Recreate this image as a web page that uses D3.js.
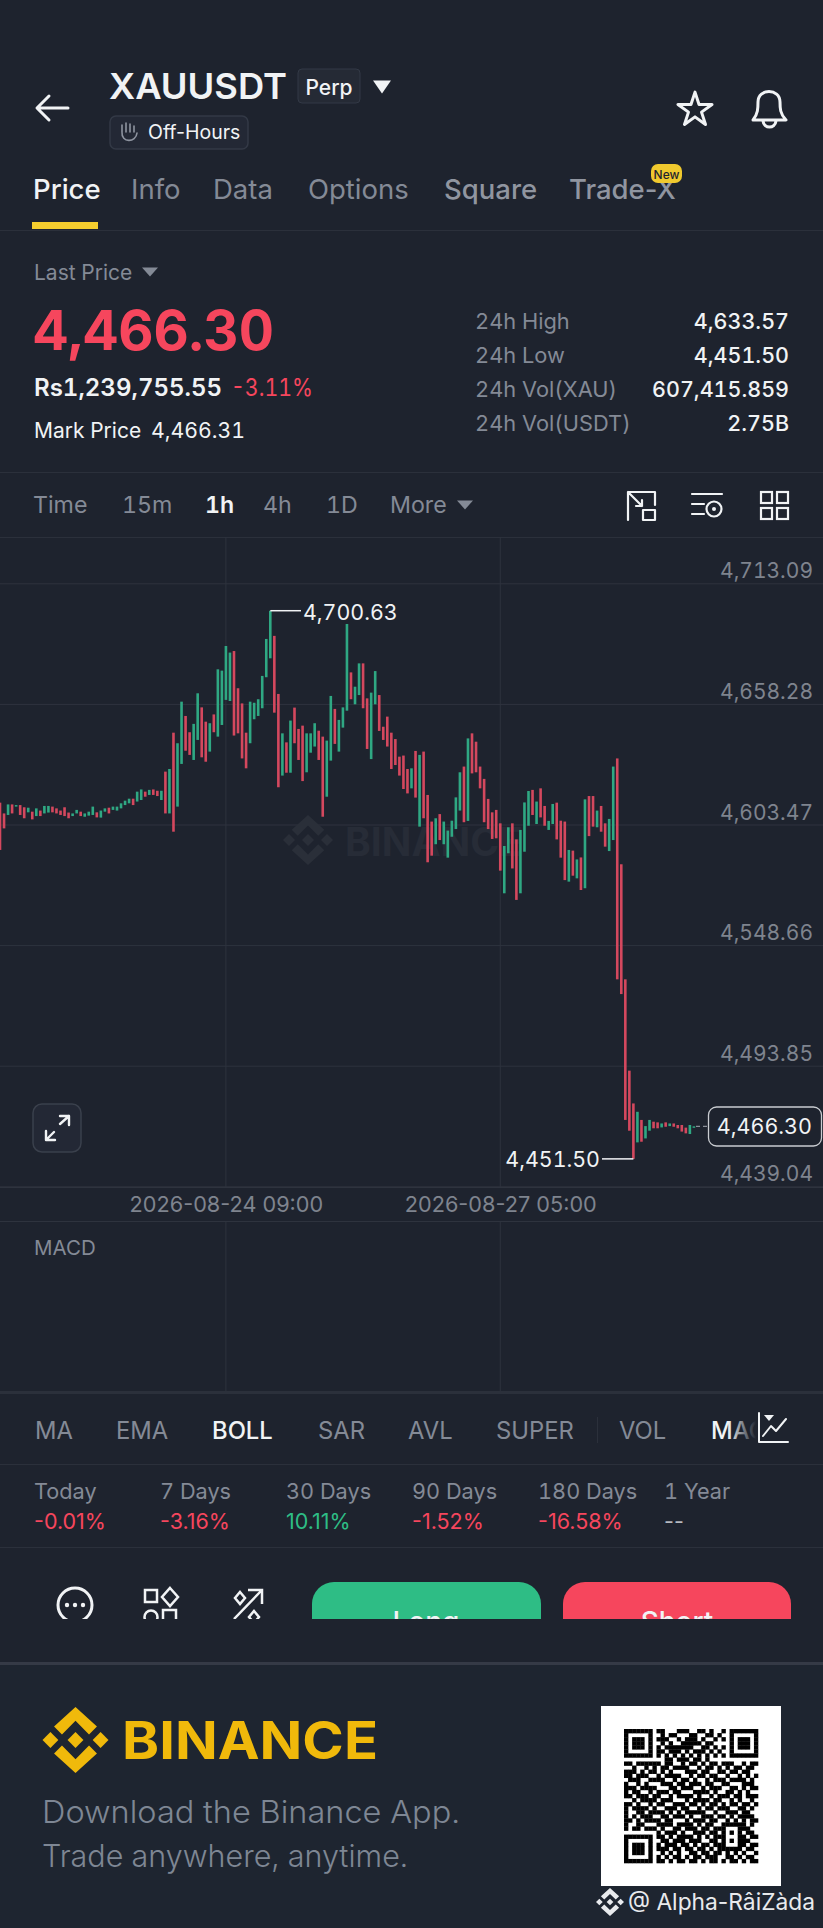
<!DOCTYPE html>
<html>
<head>
<meta charset="utf-8">
<script src="https://cdn.jsdelivr.net/npm/d3@7"></script>
<style>
    html, body { margin: 0; padding: 0; background: #1e232e; }
    svg { display: block; }
    text { font-family: Inter, Roboto, sans-serif; font-feature-settings: "tnum"; }
    text.plain, .plain text { font-feature-settings: normal; }
</style>
</head>
<body>
<div id="chart"></div>
<script>
//DATA
const openPrices = [
    4613.4,4608.5,4607.8,4612.6,4611.6,4612.3,4611.3,4609.0,4609.3,4607.3,
    4609.8,4608.5,4608.9,4611.6,4610.8,4609.8,4611.3,4608.9,4607.3,4608.5,
    4609.3,4607.0,4607.5,4607.8,4609.0,4606.6,4609.3,4611.1,4610.1,4609.8,
    4610.8,4612.3,4613.1,4615.2,4613.9,4614.6,4618.4,4616.9,4619.4,4618.8,
    4614.6,4627.5,4608.5,4645.2,4611.6,4631.0,4652.8,4645.4,4632.8,4641.9,
    4656.7,4650.2,4636.6,4653.5,4643.4,4648.7,4660.1,4659.6,4682.3,4665.4,
    4658.5,4645.2,4640.4,4651.3,4652.8,4656.3,4670.4,4679.0,4689.2,4662.8,
    4625.7,4640.8,4627.0,4656.6,4646.9,4648.4,4627.2,4636.1,4638.9,4646.1,
    4643.4,4616.1,4632.5,4656.0,4636.6,4647.5,4655.2,4672.6,4658.1,4662.3,
    4676.7,4660.8,4633.2,4658.1,4662.3,4647.9,4652.5,4645.2,4642.3,4634.3,
    4634.8,4628.7,4619.9,4636.9,4602.5,4636.6,4616.9,4604.8,4594.5,4608.2,
    4594.5,4588.4,4597.9,4601.4,4609.8,4629.8,4605.1,4644.9,4641.1,4629.8,
    4624.2,4615.1,4609.0,4610.1,4604.0,4572.2,4590.4,4604.0,4596.7,4572.2,
    4591.1,4602.9,4619.2,4603.7,4619.9,4611.9,4601.0,4603.7,4613.4,4605.2,
    4604.8,4577.5,4591.6,4579.0,4588.5,4574.5,4616.4,4616.4,4602.2,4611.9,
    4604.0,4591.4,4596.4,4633.5,4585.4,4533.1,4491.6,4476.7,4459.0,4469.2,
    4460.8,4464.3,4468.4,4468.1,4465.8,4468.1,4466.4,4467.6,4466.9,4466.9,
    4465.7,4462.8,4466.0
];
const closePrices = [
    4591.9,4601.7,4612.6,4608.5,4612.3,4607.8,4606.3,4611.1,4605.8,4610.8,
    4607.3,4611.9,4611.9,4609.0,4608.5,4607.8,4607.3,4606.3,4608.5,4610.1,
    4607.3,4608.5,4609.3,4611.6,4606.7,4609.8,4610.8,4608.5,4611.6,4611.6,
    4613.1,4614.3,4615.2,4612.3,4618.4,4619.4,4616.1,4619.2,4616.9,4616.4,
    4618.8,4608.5,4628.7,4600.2,4640.4,4659.3,4637.0,4635.1,4649.2,4663.1,
    4634.0,4632.0,4649.5,4645.4,4674.0,4673.4,4684.6,4681.6,4643.9,4644.9,
    4633.5,4629.0,4659.3,4658.8,4660.4,4671.0,4687.8,4700.6,4654.3,4620.4,
    4644.9,4627.0,4650.7,4640.4,4632.8,4623.2,4644.9,4644.9,4649.5,4632.8,
    4607.0,4641.6,4661.9,4640.1,4651.0,4656.7,4694.6,4660.4,4666.1,4676.7,
    4656.3,4637.8,4663.4,4673.2,4646.0,4641.9,4638.9,4628.7,4630.5,4625.7,
    4619.6,4617.6,4629.0,4615.7,4635.1,4606.3,4586.3,4589.3,4606.3,4596.4,
    4604.8,4600.7,4605.2,4615.8,4627.2,4604.5,4642.6,4626.7,4627.2,4619.9,
    4604.5,4601.4,4596.9,4597.2,4582.5,4593.7,4602.2,4583.5,4569.2,4601.0,
    4613.5,4618.7,4607.8,4613.9,4606.7,4602.9,4605.1,4612.8,4596.7,4588.4,
    4578.2,4591.9,4580.2,4587.6,4573.7,4614.9,4598.2,4602.5,4609.8,4600.2,
    4593.4,4606.0,4629.8,4533.1,4526.4,4469.2,4464.3,4451.5,4472.9,4459.3,
    4466.4,4469.2,4465.4,4465.4,4467.6,4466.1,4467.6,4466.1,4465.4,4463.9,
    4463.1,4466.9,4466.3
];
const priceTicks = [4713.09, 4658.28, 4603.47, 4548.66, 4493.85, 4439.04];
const timeTicks = [new Date(Date.UTC(2026, 7, 24, 9)), new Date(Date.UTC(2026, 7, 27, 5))];
const firstCandle = new Date(Date.UTC(2026, 7, 22, 1));
const highPrice = 4700.63;
const highIndex = 67;
const lowPrice = 4451.50;
const lowIndex = 157;
const lastPrice = 4466.30;

const tabs = ["Price", "Info", "Data", "Options", "Square", "Trade-X"];
const tabX = [33, 131, 213, 308, 444, 569];
const intervals = ["Time", "15m", "1h", "4h", "1D", "More"];
const intervalX = [33, 122, 205, 263, 326, 390];
const statLabels = ["24h High", "24h Low", "24h Vol(XAU)", "24h Vol(USDT)"];
const statValues = ["4,633.57", "4,451.50", "607,415.859", "2.75B"];
const indicators = ["MA", "EMA", "BOLL", "SAR", "AVL", "SUPER", "VOL", "MACD"];
const indicatorX = [35, 116, 212, 318, 408, 496, 619, 711];
const periodLabels = ["Today", "7 Days", "30 Days", "90 Days", "180 Days", "1 Year"];
const periodValues = ["-0.01%", "-3.16%", "10.11%", "-1.52%", "-16.58%", "--"];
const periodX = [34, 160, 286, 412, 538, 664];
const qrRows = [
    "111111101100011100110100101111111",
    "100000100101100011001101001000001",
    "101110101110010111010010101011101",
    "101110100101001111101100001011101",
    "101110101011111110011010101011101",
    "100000101101110101110101001000001",
    "111111101010101010101010101111111",
    "000000000011011101101000000000000",
    "110111111011001011010110111001011",
    "001001010110111100101101010110110",
    "111010110101000111011001101101100",
    "110111001011110010110110010010101",
    "011100111100101101001011101111010",
    "100101000111011011101100110001110",
    "111011110001101110010111001101011",
    "101100101110110001111010011010100",
    "110111011001011110100101110110111",
    "001011110111000101111011001010010",
    "110100101100111011010110101101101",
    "101111010011101100101101110011010",
    "100110111101010111110010011101100",
    "101011100110111010011101101011110",
    "110101111011000101110110010101011",
    "100110001111011110101100111111010",
    "101101110100110111011011100011100",
    "000000001011101001110110101010110",
    "111111101101011110101011100011011",
    "100000100110111011100110101011100",
    "101110101011101101011011100011011",
    "101110101110110110110101111110110",
    "101110100101010011011011010101001",
    "100000101010110101101110011010110",
    "111111101101011011010110101101011"
];

//COLORS
const COLORS = {
    bg: "#1e232e",
    line: "#2b303b",
    grid: "#2e333e",
    white: "#f1f3f5",
    gray: "#848a96",
    axis: "#7f848e",
    red: "#f6465d",
    green: "#2ebd85",
    candleRed: "#d4485e",
    candleGreen: "#2fa883",
    yellow: "#f0b90b"
};

const width = 823, height = 1928;
const svg = d3.select("#chart").append("svg").attr("width", width).attr("height", height);

svg.append("rect").attr("width", width).attr("height", height).attr("fill", COLORS.bg);

const txt = (x, y, s, size, fill, weight = 400, anchor = "start") =>
    svg.append("text")
        .attr("x", x).attr("y", y)
        .attr("font-size", size).attr("fill", fill)
        .attr("font-weight", weight)
        .attr("text-anchor", anchor)
        .attr("dominant-baseline", "central")
        .text(s);

const hline = (y, h = 1, color = COLORS.line) =>
    svg.append("rect").attr("x", 0).attr("y", y).attr("width", width).attr("height", h).attr("fill", color);

const stroked = (d, color = COLORS.white, w = 2.6) =>
    svg.append("path").attr("d", d).attr("fill", "none")
        .attr("stroke", color).attr("stroke-width", w)
        .attr("stroke-linecap", "round").attr("stroke-linejoin", "round");

const tri = (cx, cy, w, h, color) =>
    svg.append("path").attr("d", `M${cx - w},${cy - h / 2}H${cx + w}L${cx},${cy + h / 2}Z`).attr("fill", color);

//LOGO
const logoShapes = [
    [[0, -1], [.65, -.41], [.41, -.17], [0, -.58], [-.41, -.17], [-.65, -.41]],
    [[0, 1], [.65, .41], [.41, .17], [0, .58], [-.41, .17], [-.65, .41]],
    [[0, -.24], [.24, 0], [0, .24], [-.24, 0]],
    [[-.76, -.24], [-.52, 0], [-.76, .24], [-1, 0]],
    [[.76, -.24], [1, 0], [.76, .24], [.52, 0]]
];
function drawLogo(cx, cy, r, color) {
    svg.append("g")
        .selectAll("path")
        .data(logoShapes)
        .enter()
        .append("path")
        .attr("d", d => d3.line().x(p => cx + p[0] * r).y(p => cy + p[1] * r).curve(d3.curveLinearClosed)(d))
        .attr("fill", color);
}

//HEADER
stroked("M38,108H68M49,96L37,108L49,120", COLORS.white, 3);
txt(109, 86, "XAUUSDT", 35.5, COLORS.white, 600).attr("textLength", 178).attr("lengthAdjust", "spacingAndGlyphs");
svg.append("rect").attr("x", 298).attr("y", 69).attr("width", 62).attr("height", 34).attr("rx", 4)
    .attr("fill", "#252a35").attr("stroke", "#333946");
txt(329, 87, "Perp", 21, COLORS.white, 500, "middle");
tri(382, 87, 9, 13, COLORS.white);
svg.append("rect").attr("x", 110).attr("y", 116).attr("width", 138).attr("height", 33).attr("rx", 6)
    .attr("fill", "#232835").attr("stroke", "#333946").attr("stroke-width", 1.5);
stroked("M122,132V125M126,132V123M130,132V124M134,132V126M122,132C121,143,136,143,137,133", "#8e94a0", 1.6);
txt(148, 132, "Off-Hours", 19.5, COLORS.white).attr("class", "plain");
svg.append("path")
    .attr("d", d3.symbol(d3.symbolStar, 360)())
    .attr("transform", "translate(695,110)")
    .attr("fill", "none").attr("stroke", COLORS.white).attr("stroke-width", 3).attr("stroke-linejoin", "round");
stroked("M753,120C758,114,758,108,758,102C758,88,780,88,780,102C780,108,780,114,786,120ZM763,121C764,129,775,129,776,121", COLORS.white, 3);

//TABS
tabs.forEach((t, i) => txt(tabX[i], 189, t, 27.5, i === 0 ? COLORS.white : (i > 3 ? "#9095a0" : COLORS.gray), i === 0 ? 500 : (i > 3 ? 500 : 400)).attr("class", "plain"));
svg.append("rect").attr("x", 32).attr("y", 222).attr("width", 66).attr("height", 7).attr("fill", "#f5cd2e");
hline(230);
svg.append("rect").attr("x", 651).attr("y", 164).attr("width", 31).attr("height", 19).attr("rx", 7).attr("fill", "#f0c92e");
txt(666.5, 174, "New", 12, "#1e232e", 500, "middle");

//PRICE BLOCK
txt(34, 272, "Last Price", 21, COLORS.gray);
tri(150, 272, 8, 9, COLORS.gray);
txt(33, 330, "4,466.30", 55, COLORS.red, 700).attr("textLength", 241).attr("lengthAdjust", "spacingAndGlyphs");
txt(34, 387, "Rs1,239,755.55", 24, COLORS.white, 600).attr("textLength", 188).attr("lengthAdjust", "spacingAndGlyphs");
txt(231, 387, "-3.11%", 24, COLORS.red).attr("textLength", 82).attr("lengthAdjust", "spacingAndGlyphs");
txt(34, 430, "Mark Price", 21, COLORS.white);
txt(151, 430, "4,466.31", 21, COLORS.white).attr("textLength", 94).attr("lengthAdjust", "spacingAndGlyphs");
statLabels.forEach((s, i) => {
    const y = 321 + i * 34;
    txt(475, y, s, 21.8, COLORS.gray);
    txt(789, y, statValues[i], 21.5, COLORS.white, 500, "end");
});
hline(472);

//INTERVALS
intervals.forEach((s, i) => txt(intervalX[i], 505, s, 23.2, i === 2 ? COLORS.white : COLORS.gray, i === 2 ? 600 : 400));
tri(465, 505, 8, 9, COLORS.gray);
stroked("M628,520V492H655V505M628,492L642,506M636,506H642V500M643,510H655V520H643Z", COLORS.white, 2.2);
stroked("M692,494H722M692,504H704M692,514H704", COLORS.white, 2.2);
svg.append("circle").attr("cx", 714).attr("cy", 509).attr("r", 7.5).attr("fill", "none").attr("stroke", COLORS.white).attr("stroke-width", 2.2);
svg.append("circle").attr("cx", 714).attr("cy", 509).attr("r", 2).attr("fill", COLORS.white);
[[761, 492], [777, 492], [761, 508], [777, 508]].forEach(p =>
    svg.append("rect").attr("x", p[0]).attr("y", p[1]).attr("width", 11).attr("height", 11)
        .attr("fill", "none").attr("stroke", COLORS.white).attr("stroke-width", 2.2));
hline(537);

//SCALES
const candles = openPrices.map((o, i) => ({ i, open: o, close: closePrices[i] }));
const hour = 3600 * 1000;
const dateOf = i => new Date(firstCandle.getTime() + i * hour);

const x = d3.scaleUtc()
    .domain([firstCandle, dateOf(204)])
    .range([0, 823]);

const y = d3.scaleLinear()
    .domain([4713.09, 4439.04])
    .range([583.3, 1186.3]);

//GRID AND AXES
timeTicks.forEach(t => {
    [[537, 1187], [1221, 1391]].forEach(r =>
        svg.append("line")
            .attr("x1", x(t)).attr("x2", x(t))
            .attr("y1", r[0]).attr("y2", r[1])
            .attr("stroke", COLORS.grid));
});

const yAxis = svg.append("g")
    .attr("transform", `translate(${width},0)`)
    .call(d3.axisLeft(y).tickValues(priceTicks).tickSize(width).tickFormat(d3.format(",.2f")));
yAxis.select(".domain").remove();
yAxis.selectAll("line").attr("stroke", COLORS.grid);
yAxis.selectAll("text")
    .attr("x", -10).attr("dy", 0).attr("y", -13)
    .attr("dominant-baseline", "central")
    .attr("font-family", "Inter, Roboto, sans-serif")
    .attr("font-size", 21).attr("fill", COLORS.axis);

const xAxis = svg.append("g")
    .attr("class", "plain")
    .attr("transform", "translate(0,1187)")
    .call(d3.axisBottom(x).tickValues(timeTicks).tickSize(0).tickFormat(d3.utcFormat("%Y-%m-%d %H:%M")));
xAxis.select(".domain").remove();
xAxis.selectAll("text")
    .attr("y", 17).attr("dy", 0)
    .attr("dominant-baseline", "central")
    .attr("font-family", "Inter, Roboto, sans-serif")
    .attr("font-size", 21.7).attr("fill", COLORS.axis);
hline(1187, 1, COLORS.grid);
hline(1221, 1, COLORS.grid);

//WATERMARK
drawLogo(308, 840, 25, "#2a2f39");
txt(345, 841, "BINANCE", 39, "#272c37", 700);

//CANDLES
svg.append("g")
    .selectAll("rect")
    .data(candles)
    .enter()
    .append("rect")
    .attr("x", d => x(dateOf(d.i)) - 1.3)
    .attr("y", d => y(Math.max(d.open, d.close)))
    .attr("width", 2.6)
    .attr("height", d => Math.max(1.5, Math.abs(y(d.open) - y(d.close))))
    .attr("fill", d => d.close >= d.open ? COLORS.candleGreen : COLORS.candleRed);

//HIGH LOW LAST
svg.append("line").attr("x1", x(dateOf(highIndex))).attr("x2", 301).attr("y1", y(highPrice)).attr("y2", y(highPrice))
    .attr("stroke", COLORS.white).attr("stroke-width", 1.5);
txt(303, y(highPrice) + 1, d3.format(",.2f")(highPrice), 21.4, COLORS.white);
svg.append("line").attr("x1", 602).attr("x2", x(dateOf(lowIndex))).attr("y1", y(lowPrice)).attr("y2", y(lowPrice))
    .attr("stroke", COLORS.white).attr("stroke-width", 1.5);
txt(600, y(lowPrice), d3.format(",.2f")(lowPrice), 21.4, COLORS.white, 400, "end");
svg.append("line").attr("x1", 696).attr("x2", 708).attr("y1", y(lastPrice)).attr("y2", y(lastPrice))
    .attr("stroke", "#8a8f99").attr("stroke-width", 1.2).attr("stroke-dasharray", "4 3");
svg.append("rect").attr("x", 708.5).attr("y", 1107).attr("width", 113).attr("height", 39).attr("rx", 8)
    .attr("fill", COLORS.bg).attr("stroke", "#c9ccd1").attr("stroke-width", 1.3);
txt(812, y(lastPrice), d3.format(",.2f")(lastPrice), 21.5, COLORS.white, 400, "end");

//EXPAND BUTTON
svg.append("rect").attr("x", 33).attr("y", 1104).attr("width", 48).attr("height", 48).attr("rx", 9)
    .attr("fill", "#232835").attr("stroke", "#3a404c").attr("stroke-width", 1.5);
stroked("M46,1140L54,1132M60,1124L69,1116M60,1116H69V1125M46,1131V1140H55", COLORS.white, 2.4);

//MACD
txt(34, 1247, "MACD", 20.5, COLORS.gray);
hline(1391, 3, COLORS.line);

//INDICATORS
indicators.forEach((s, i) => txt(indicatorX[i], 1430, s, 23.8, (s === "BOLL" || s === "MACD") ? COLORS.white : COLORS.gray, (s === "BOLL" || s === "MACD") ? 500 : 400));
svg.append("rect").attr("x", 597).attr("y", 1417).attr("width", 1).attr("height", 26).attr("fill", COLORS.line);
const fade = svg.append("defs").append("linearGradient").attr("id", "fade");
fade.append("stop").attr("offset", 0).attr("stop-color", COLORS.bg).attr("stop-opacity", 0);
fade.append("stop").attr("offset", 1).attr("stop-color", COLORS.bg);
svg.append("rect").attr("x", 728).attr("y", 1412).attr("width", 28).attr("height", 36).attr("fill", "url(#fade)");
svg.append("rect").attr("x", 756).attr("y", 1412).attr("width", 67).attr("height", 36).attr("fill", COLORS.bg);
stroked("M759,1413V1442H788M763,1436L771,1426L776,1431L786,1419", COLORS.white, 2);
tri(769, 1418, 5, 6, COLORS.white);
hline(1464);

//PERIOD CHANGE
periodLabels.forEach((s, i) => {
    txt(periodX[i], 1491, s, 21.7, COLORS.gray);
    const v = periodValues[i];
    txt(periodX[i], 1521, v, 21.5, v === "--" ? "#b7bac0" : (v[0] === "-" ? COLORS.red : COLORS.green)).attr("class", "plain");
});
hline(1547);

//BUTTONS (cut off at the bottom)
const clip = svg.append("defs").append("clipPath").attr("id", "cut");
clip.append("rect").attr("x", 0).attr("y", 1560).attr("width", width).attr("height", 59);
const cut = svg.append("g").attr("clip-path", "url(#cut)");
cut.append("rect").attr("x", 312).attr("y", 1582).attr("width", 229).attr("height", 70).attr("rx", 22).attr("fill", COLORS.green);
cut.append("rect").attr("x", 563).attr("y", 1582).attr("width", 228).attr("height", 70).attr("rx", 22).attr("fill", COLORS.red);
cut.append("text").attr("x", 426).attr("y", 1632).attr("text-anchor", "middle").attr("font-size", 28).attr("font-weight", 500).attr("fill", COLORS.white).text("Long");
cut.append("text").attr("x", 677).attr("y", 1632).attr("text-anchor", "middle").attr("font-size", 28).attr("font-weight", 500).attr("fill", COLORS.white).text("Short");
cut.append("circle").attr("cx", 75).attr("cy", 1605).attr("r", 17).attr("fill", "none").attr("stroke", COLORS.white).attr("stroke-width", 3);
[67, 75, 83].forEach(cx => cut.append("circle").attr("cx", cx).attr("cy", 1605).attr("r", 2.2).attr("fill", COLORS.white));
cut.append("rect").attr("x", 145).attr("y", 1590).attr("width", 12).attr("height", 12).attr("fill", "none").attr("stroke", COLORS.white).attr("stroke-width", 2.5);
cut.append("path").attr("d", "M170,1588L178,1597L170,1606L162,1597Z").attr("fill", "none").attr("stroke", COLORS.white).attr("stroke-width", 2.5);
cut.append("circle").attr("cx", 151).attr("cy", 1617).attr("r", 6.5).attr("fill", "none").attr("stroke", COLORS.white).attr("stroke-width", 2.5);
cut.append("rect").attr("x", 163).attr("y", 1610).attr("width", 13).attr("height", 13).attr("fill", "none").attr("stroke", COLORS.white).attr("stroke-width", 2.5);
cut.append("path").attr("d", "M234,1619L261,1591M248,1590H262V1604M240,1592L245,1598L240,1604L235,1598ZM254,1611L259,1617L254,1623L249,1617Z").attr("fill", "none").attr("stroke", COLORS.white).attr("stroke-width", 2.5);

//FOOTER
svg.append("rect").attr("x", 0).attr("y", 1664).attr("width", width).attr("height", 264).attr("fill", "#1e2530");
hline(1662, 3, "#353a46");
drawLogo(75.5, 1740, 33, COLORS.yellow);
txt(122, 1740, "BINANCE", 52, COLORS.yellow, 700).attr("textLength", 256).attr("lengthAdjust", "spacingAndGlyphs");
txt(42, 1811, "Download the Binance App.", 31, "#7e8794", 300).attr("textLength", 418).attr("lengthAdjust", "spacingAndGlyphs");
txt(42, 1855, "Trade anywhere, anytime.", 31, "#7e8794", 300).attr("textLength", 366).attr("lengthAdjust", "spacingAndGlyphs");

//QR
svg.append("rect").attr("x", 601).attr("y", 1706).attr("width", 180).attr("height", 180).attr("fill", "#fff");
const qrCols = d3.range(33);
const qrX = d3.scaleBand().domain(qrCols).range([624, 758]);
const qrY = d3.scaleBand().domain(qrCols).range([1729, 1863]);
const qrCells = qrRows.flatMap((row, r) => row.split("").map((v, c) => ({ r, c, v }))).filter(d => d.v === "1");
svg.append("g")
    .selectAll("rect")
    .data(qrCells)
    .enter()
    .append("rect")
    .attr("x", d => qrX(d.c))
    .attr("y", d => qrY(d.r))
    .attr("width", qrX.bandwidth() + .3)
    .attr("height", qrY.bandwidth() + .3)
    .attr("fill", "#000");

drawLogo(610, 1902, 14, "#e8eaed");
txt(628, 1902, "@ Alpha-RâiZàda", 23, "#e8eaed").attr("class", "plain").attr("textLength", 187).attr("lengthAdjust", "spacingAndGlyphs");
</script>
</body>
</html>
